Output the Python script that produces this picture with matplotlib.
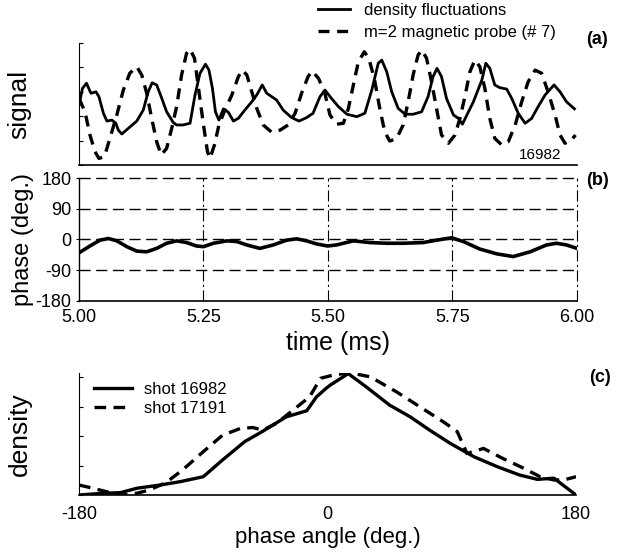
import matplotlib
matplotlib.use("Agg")
import matplotlib.pyplot as plt

plt.rcParams['font.family'] = ['Liberation Sans', 'DejaVu Sans']

# (a) time traces, shot 16982
t_dens = [5.000, 5.007, 5.015, 5.024, 5.034, 5.040, 5.049, 5.056, 5.066, 5.074,
          5.079, 5.086, 5.099, 5.116, 5.129, 5.139, 5.147, 5.156, 5.165, 5.176,
          5.189, 5.196, 5.209, 5.223, 5.233, 5.243, 5.254, 5.261, 5.268, 5.274,
          5.281, 5.290, 5.300, 5.310, 5.320, 5.333, 5.347, 5.357, 5.368, 5.377,
          5.387, 5.397, 5.410, 5.427, 5.442, 5.457, 5.470, 5.484, 5.494, 5.507,
          5.521, 5.538, 5.558, 5.574, 5.588, 5.601, 5.608, 5.618, 5.628, 5.641,
          5.655, 5.671, 5.688, 5.701, 5.711, 5.719, 5.728, 5.738, 5.752, 5.762,
          5.770, 5.779, 5.792, 5.809, 5.817, 5.825, 5.835, 5.845, 5.859, 5.869,
          5.882, 5.896, 5.909, 5.922, 5.936, 5.954, 5.966, 5.979, 5.995]
dens = [2.46, 3.14, 3.35, 2.94, 3.00, 2.80, 2.12, 1.80, 1.84, 1.71,
        1.43, 1.27, 1.50, 1.80, 2.25, 3.00, 3.37, 3.28, 2.80, 2.18,
        1.75, 1.64, 1.64, 1.71, 2.87, 3.76, 4.13, 3.89, 3.14, 2.18,
        1.84, 2.30, 2.16, 1.80, 1.91, 2.25, 2.59, 2.87, 3.28, 2.94,
        2.80, 2.66, 2.25, 1.94, 1.80, 1.94, 2.12, 2.80, 3.07, 2.73,
        2.39, 2.08, 1.98, 2.12, 3.07, 4.17, 4.30, 3.82, 3.00, 2.32,
        2.08, 2.08, 2.18, 2.80, 3.62, 3.96, 3.62, 2.73, 2.05, 1.91,
        1.67, 2.05, 2.59, 3.48, 4.17, 3.96, 3.28, 3.17, 3.11, 2.73,
        2.12, 1.71, 1.91, 2.39, 2.87, 3.28, 3.00, 2.59, 2.30]

t_mag = [5.000, 5.012, 5.022, 5.032, 5.040, 5.051, 5.062, 5.076, 5.089, 5.102,
         5.116, 5.126, 5.136, 5.146, 5.156, 5.165, 5.176, 5.187, 5.196, 5.206,
         5.216, 5.223, 5.232, 5.240, 5.250, 5.258, 5.263, 5.272, 5.281, 5.293,
         5.307, 5.320, 5.328, 5.337, 5.347, 5.357, 5.370, 5.387, 5.404, 5.420,
         5.434, 5.447, 5.460, 5.468, 5.481, 5.493, 5.504, 5.517, 5.531, 5.541,
         5.551, 5.561, 5.573, 5.582, 5.593, 5.604, 5.614, 5.624, 5.638, 5.651,
         5.661, 5.671, 5.681, 5.689, 5.698, 5.708, 5.718, 5.728, 5.742, 5.755,
         5.765, 5.775, 5.785, 5.795, 5.805, 5.815, 5.825, 5.835, 5.849, 5.862,
         5.876, 5.889, 5.902, 5.916, 5.929, 5.942, 5.956, 5.966, 5.976, 5.989,
         5.997]
mag = [2.73, 2.18, 1.23, 0.55, 0.27, 0.34, 1.09, 2.05, 3.07, 3.76,
       4.03, 3.69, 2.94, 1.91, 0.95, 0.41, 0.68, 1.57, 2.39, 3.69,
       4.58, 4.75, 4.37, 3.14, 1.64, 0.55, 0.27, 0.82, 1.64, 2.25,
       2.87, 3.62, 3.89, 3.69, 3.00, 2.32, 1.64, 1.34, 1.43, 1.64,
       2.12, 2.94, 3.62, 3.85, 3.55, 3.00, 2.05, 1.67, 1.71, 2.32,
       3.28, 4.23, 4.64, 4.37, 3.55, 2.32, 1.36, 0.98, 1.09, 1.64,
       2.59, 3.69, 4.51, 4.71, 4.37, 3.41, 2.32, 1.23, 0.89, 1.23,
       1.91, 2.80, 3.82, 4.30, 4.03, 3.14, 1.91, 1.09, 0.82, 0.95,
       1.64, 2.59, 3.41, 3.89, 3.76, 3.00, 2.05, 1.23, 0.89, 1.02,
       1.23]

# (b) relative phase
t_phase = [5.000, 5.022, 5.042, 5.059, 5.076, 5.096, 5.116, 5.136, 5.156, 5.176,
           5.196, 5.216, 5.236, 5.250, 5.270, 5.297, 5.317, 5.337, 5.363, 5.390,
           5.417, 5.437, 5.457, 5.477, 5.499, 5.517, 5.551, 5.584, 5.618, 5.651,
           5.691, 5.718, 5.748, 5.772, 5.805, 5.839, 5.872, 5.906, 5.939, 5.959,
           5.979, 6.000]
phase = [-39, -19, -2, 3, -4, -21, -34, -36, -26, -11,
         -4, -9, -19, -21, -11, -4, -6, -16, -26, -16,
         -2, 2, -4, -13, -19, -16, -4, -9, -11, -11,
         -9, -2, 5, -6, -28, -42, -50, -36, -16, -11,
         -16, -26]

# (c) density vs phase angle
ang_16982 = [-180, -162, -150, -138, -121, -107, -90, -76, -60, -47,
             -30, -15, -8, -1, 2, 15, 28, 45, 60, 74,
             89, 106, 123, 139, 152, 164, 180]
dens_16982 = [0.00, 0.06, 0.08, 0.23, 0.34, 0.45, 0.62, 1.19, 1.81, 2.16,
              2.65, 2.86, 3.33, 3.62, 3.73, 4.12, 3.67, 3.05, 2.65, 2.20,
              1.75, 1.30, 0.96, 0.68, 0.53, 0.57, 0.00]
ang_17191 = [-180, -170, -160, -149, -138, -129, -117, -105, -90, -76,
             -63, -54, -47, -37, -25, -13, -5, 4, 16, 31,
             50, 67, 84, 94, 101, 113, 127, 142, 154, 164,
             171, 180]
dens_17191 = [0.34, 0.23, 0.11, 0.00, 0.06, 0.17, 0.42, 0.85, 1.47, 2.03,
              2.26, 2.29, 2.20, 2.43, 2.88, 3.33, 3.96, 4.07, 4.15, 4.01,
              3.50, 2.99, 2.48, 2.15, 1.41, 1.58, 1.24, 0.91, 0.62, 0.51,
              0.51, 0.62]

fig = plt.figure(figsize=(6.24, 5.54), dpi=100)
ax_a = fig.add_axes([0.1266, 0.7022, 0.798, 0.2202])
ax_b = fig.add_axes([0.1266, 0.4567, 0.798, 0.222])
ax_c = fig.add_axes([0.1266, 0.1065, 0.7965, 0.2202])

# ---- panel (a)
ax_a.plot(t_dens, dens, color='black', lw=2.0, label='density fluctuations')
ax_a.plot(t_mag, mag, color='black', lw=2.4, linestyle=(0, (3.3, 2.3)),
          label='m=2 magnetic probe (# 7)')
ax_a.set_xlim(5.0, 6.0)
ax_a.set_ylim(0, 5)
ax_a.set_yticks([0, 1, 2, 3, 4, 5])
ax_a.set_yticklabels([])
ax_a.tick_params(axis='y', direction='in', length=3, width=0.8)
ax_a.set_xticks([])
for s in ['top', 'right']:
    ax_a.spines[s].set_visible(False)
ax_a.spines['left'].set_linewidth(0.8)
ax_a.spines['bottom'].set_linewidth(1.2)
ax_a.set_ylabel('signal', fontsize=19)
ax_a.yaxis.set_label_coords(-0.095, 0.5)
ax_a.text(0.926, 0.08, '16982', transform=ax_a.transAxes, ha='center',
          va='center', fontsize=11)
fig.legend(handles=ax_a.get_lines(), loc='upper left',
           bbox_to_anchor=(0.51, 0.995), frameon=False, fontsize=12,
           handlelength=1.9, handletextpad=0.85, labelspacing=0.45,
           borderpad=0, borderaxespad=0)

# ---- panel (b)
ax_b.plot(t_phase, phase, color='black', lw=2.6)
for yv in [180, 90, 0, -90]:
    ax_b.axhline(yv, color='black', lw=1.0, linestyle=(0, (8, 4)), clip_on=False)
for xv in [5.25, 5.5, 5.75, 6.0]:
    ax_b.axvline(xv, color='black', lw=0.8, linestyle=(0, (10, 3, 2, 3)),
                 clip_on=False)
ax_b.set_xlim(5.0, 6.0)
ax_b.set_ylim(-180, 180)
ax_b.set_yticks([-180, -90, 0, 90, 180])
ax_b.set_yticklabels(['-180', '-90', '0', '90', '180'])
ax_b.set_xticks([5.0, 5.25, 5.5, 5.75, 6.0])
ax_b.set_xticklabels(['5.00', '5.25', '5.50', '5.75', '6.00'])
ax_b.tick_params(axis='both', labelsize=13, length=2, width=0.8)
ax_b.tick_params(axis='x', length=0, pad=6)
for s in ['top', 'right']:
    ax_b.spines[s].set_visible(False)
ax_b.spines['left'].set_linewidth(1.0)
ax_b.spines['bottom'].set_linewidth(1.2)
ax_b.set_ylabel('phase (deg.)', fontsize=17)
ax_b.yaxis.set_label_coords(-0.09, 0.5)
ax_b.set_xlabel('time (ms)', fontsize=18)
ax_b.xaxis.set_label_coords(0.52, -0.24)

# ---- panel (c)
ax_c.plot(ang_16982, dens_16982, color='black', lw=2.4, label='shot 16982')
ax_c.plot(ang_17191, dens_17191, color='black', lw=2.4,
          linestyle=(0, (3.5, 2.2)), label='shot 17191')
ax_c.set_xlim(-180, 180)
ax_c.set_ylim(0, 4.14)
ax_c.set_yticks([0, 1, 2, 3, 4])
ax_c.set_yticklabels([])
ax_c.tick_params(axis='y', direction='in', length=3, width=0.8)
ax_c.set_xticks([-180, 0, 180])
ax_c.set_xticklabels(['-180', '0', '180'])
ax_c.tick_params(axis='x', labelsize=13, length=0, pad=8)
for s in ['top', 'right']:
    ax_c.spines[s].set_visible(False)
ax_c.spines['left'].set_linewidth(0.8)
ax_c.spines['bottom'].set_linewidth(1.2)
ax_c.set_ylabel('density', fontsize=19)
ax_c.yaxis.set_label_coords(-0.095, 0.5)
ax_c.set_xlabel('phase angle (deg.)', fontsize=16)
ax_c.xaxis.set_label_coords(0.5, -0.26)
ax_c.legend(loc='upper left', bbox_to_anchor=(0.03, 0.93), frameon=False,
            fontsize=12, handlelength=2.3, handletextpad=0.7,
            labelspacing=0.25, borderpad=0, borderaxespad=0)

# panel letters
fig.text(0.957, 0.928, '(a)', fontsize=13, fontweight='bold', ha='center', va='center')
fig.text(0.957, 0.675, '(b)', fontsize=13, fontweight='bold', ha='center', va='center')
fig.text(0.962, 0.318, '(c)', fontsize=13, fontweight='bold', ha='center', va='center')

fig.savefig('out.png', dpi=100)
